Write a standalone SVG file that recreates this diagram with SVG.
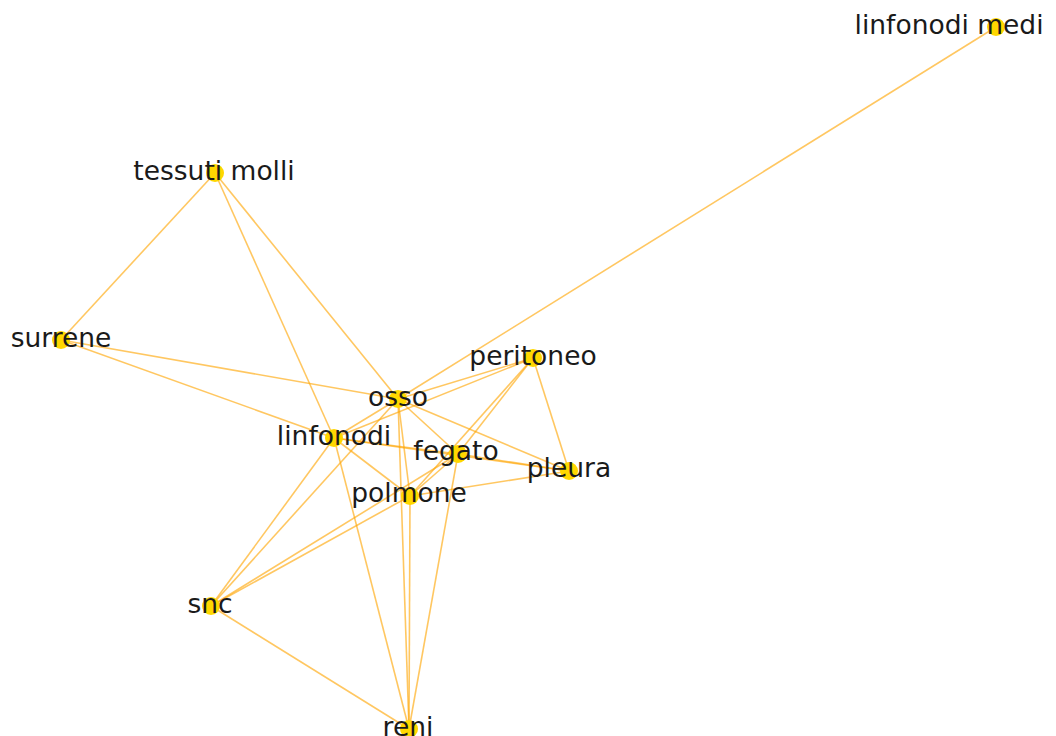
<svg xmlns="http://www.w3.org/2000/svg" width="1056" height="736" viewBox="0 0 1056 736">
  <style>
    .edge { stroke: #FFA500; stroke-opacity: 0.62; stroke-width: 1.6; fill: none; }
    .node circle { fill: #FFD700; }
    .node text { font-family: "DejaVu Sans", "Liberation Sans", sans-serif; font-size: 26.5px; fill: #1a1a1a; text-anchor: middle; }
  </style>
  <defs>
    <!-- plot area ends just short of the right border -->
    <clipPath id="plot-area">
      <rect x="0" y="0" width="1044" height="736"/>
    </clipPath>
  </defs>
  <rect width="1056" height="736" fill="#ffffff"/>

  <!-- connectors -->
  <g id="edges">
    <line class="edge" x1="996" y1="27" x2="398" y2="399"/>
    <line class="edge" x1="215" y1="173" x2="61" y2="340"/>
    <line class="edge" x1="215" y1="173" x2="398" y2="399"/>
    <line class="edge" x1="215" y1="173" x2="334" y2="438"/>
    <line class="edge" x1="61" y1="340" x2="398" y2="399"/>
    <line class="edge" x1="61" y1="340" x2="334" y2="438"/>
    <line class="edge" x1="398" y1="399" x2="533" y2="358"/>
    <line class="edge" x1="398" y1="399" x2="334" y2="438"/>
    <line class="edge" x1="398" y1="399" x2="458" y2="454"/>
    <line class="edge" x1="398" y1="399" x2="569" y2="471"/>
    <line class="edge" x1="398" y1="399" x2="410" y2="496"/>
    <line class="edge" x1="398" y1="399" x2="409" y2="729"/>
    <line class="edge" x1="398" y1="399" x2="211" y2="606"/>
    <line class="edge" x1="334" y1="438" x2="533" y2="358"/>
    <line class="edge" x1="334" y1="438" x2="458" y2="454"/>
    <line class="edge" x1="334" y1="438" x2="569" y2="471"/>
    <line class="edge" x1="334" y1="438" x2="410" y2="496"/>
    <line class="edge" x1="334" y1="438" x2="211" y2="606"/>
    <line class="edge" x1="334" y1="438" x2="409" y2="729"/>
    <line class="edge" x1="533" y1="358" x2="569" y2="471"/>
    <line class="edge" x1="533" y1="358" x2="458" y2="454"/>
    <line class="edge" x1="533" y1="358" x2="410" y2="496"/>
    <line class="edge" x1="458" y1="454" x2="569" y2="471"/>
    <line class="edge" x1="458" y1="454" x2="410" y2="496"/>
    <line class="edge" x1="458" y1="454" x2="211" y2="606"/>
    <line class="edge" x1="458" y1="454" x2="409" y2="729"/>
    <line class="edge" x1="569" y1="471" x2="410" y2="496"/>
    <line class="edge" x1="410" y1="496" x2="211" y2="606"/>
    <line class="edge" x1="410" y1="496" x2="409" y2="729"/>
    <line class="edge" x1="211" y1="606" x2="409" y2="729"/>
  </g>

  <!-- nodes -->
  <g id="node-linfonodi-mediastinici" class="node" clip-path="url(#plot-area)">
    <circle cx="996" cy="27" r="9"/>
    <text x="996" y="34">linfonodi mediastinici</text>
  </g>
  <g id="node-tessuti-molli" class="node">
    <circle cx="215" cy="173" r="9"/>
    <text x="214" y="180">tessuti molli</text>
  </g>
  <g id="node-surrene" class="node">
    <circle cx="61" cy="340" r="9"/>
    <text x="61" y="347">surrene</text>
  </g>
  <g id="node-osso" class="node">
    <circle cx="398" cy="399" r="9"/>
    <text x="398" y="406">osso</text>
  </g>
  <g id="node-peritoneo" class="node">
    <circle cx="533" cy="358" r="9"/>
    <text x="533" y="365">peritoneo</text>
  </g>
  <g id="node-linfonodi" class="node">
    <circle cx="334" cy="438" r="9"/>
    <text x="334" y="445">linfonodi</text>
  </g>
  <g id="node-fegato" class="node">
    <circle cx="458" cy="454" r="9"/>
    <text x="456" y="460">fegato</text>
  </g>
  <g id="node-pleura" class="node">
    <circle cx="569" cy="471" r="9"/>
    <text x="569" y="477">pleura</text>
  </g>
  <g id="node-polmone" class="node">
    <circle cx="410" cy="496" r="9"/>
    <text x="409" y="502">polmone</text>
  </g>
  <g id="node-snc" class="node">
    <circle cx="211" cy="606" r="9"/>
    <text x="210" y="613">snc</text>
  </g>
  <g id="node-reni" class="node">
    <circle cx="409" cy="729" r="9"/>
    <text x="408" y="736">reni</text>
  </g>
</svg>
